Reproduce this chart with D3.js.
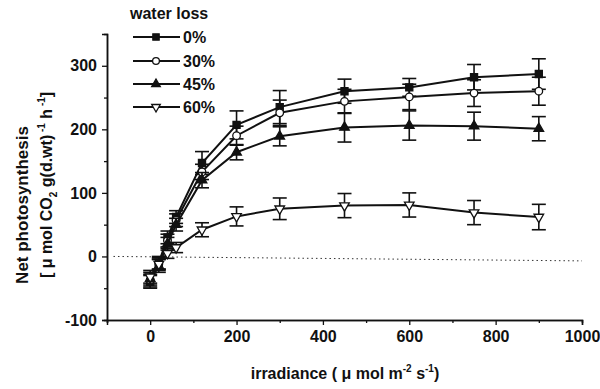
<!DOCTYPE html>
<html>
<head>
<meta charset="utf-8">
<script src="https://cdn.jsdelivr.net/npm/d3@7"></script>
<style>
	body { margin: 0; background: #fff; }
	text { font-family: "Liberation Sans", Arial, sans-serif; fill: #111; }
</style>
</head>
<body>
<div id="chart"></div>
<script>
(function () {
	// data
	var irradiance = [0, 20, 40, 60, 120, 200, 300, 450, 600, 750, 900];
	var seriesNames = ['0%', '30%', '45%', '60%'];
	var loss0 = [-40, -10, 30, 62, 147, 207, 235, 260, 266, 282, 287];
	var loss30 = [-38, -12, 25, 57, 133, 190, 226, 244, 251, 257, 260];
	var loss45 = [-35, -15, 20, 50, 120, 164, 189, 203, 206, 205, 201];
	var loss60 = [-32, -12, 5, 14, 42, 63, 75, 80, 81, 69, 62];
	var err0 = [10, 10, 10, 10, 18, 22, 26, 19, 14, 20, 24];
	var err30 = [10, 10, 10, 10, 12, 15, 20, 19, 20, 21, 22];
	var err45 = [10, 10, 10, 10, 12, 12, 15, 23, 23, 22, 19];
	var err60 = [10, 8, 8, 8, 11, 15, 17, 19, 19, 19, 20];
	var zeroLine = [[-85, 0], [1000, -7]];
	var xTicks = [0, 200, 400, 600, 800, 1000];
	var yTicks = [-100, 0, 100, 200, 300];

	var series = [
		{ name: seriesNames[0], values: loss0, errs: err0, symbol: d3.symbolSquare, fill: '#111', size: 50 },
		{ name: seriesNames[1], values: loss30, errs: err30, symbol: d3.symbolCircle, fill: '#fff', size: 45 },
		{ name: seriesNames[2], values: loss45, errs: err45, symbol: d3.symbolTriangle, fill: '#111', size: 40 },
		{ name: seriesNames[3], values: loss60, errs: err60, symbol: d3.symbolTriangle, fill: '#fff', size: 40, flip: true }
	];

	var width = 600, height = 389;
	var margin = { top: 34, right: 18, bottom: 69, left: 107 };
	var fontSize = '16px';

	var x = d3.scaleLinear().domain([-100, 1000]).range([margin.left, width - margin.right]);
	var y = d3.scaleLinear().domain([-100, 350]).range([height - margin.bottom, margin.top]);

	var svg = d3.select('#chart').append('svg')
		.attr('width', width).attr('height', height);

	// axes (plain hyphen for negatives, like the original)
	var fmt = d => String(d);
	var xAxis = d3.axisBottom(x).tickValues(xTicks).tickSize(5).tickPadding(6).tickFormat(fmt);
	var xMinor = d3.axisBottom(x).tickValues(d3.range(-100, 1000, 200)).tickSize(3).tickFormat('');
	var yAxis = d3.axisLeft(y).tickValues(yTicks).tickSize(5).tickPadding(5).tickFormat(fmt);
	var yMinor = d3.axisLeft(y).tickValues(d3.range(-50, 350, 100)).tickSize(3).tickFormat('');

	var gx = svg.append('g').attr('transform', 'translate(0,' + y(-100) + ')');
	gx.call(xAxis);
	gx.append('g').call(xMinor);
	var gy = svg.append('g').attr('transform', 'translate(' + x(-100) + ',0)');
	gy.call(yAxis);
	gy.append('g').call(yMinor);

	svg.selectAll('.domain').attr('stroke', '#111').attr('stroke-width', 1.5);
	svg.selectAll('.tick line').attr('stroke', '#111').attr('stroke-width', 1.3);
	svg.selectAll('.tick text')
		.style('font-size', fontSize).style('font-weight', 'bold').attr('fill', '#111');

	// dotted zero line
	svg.append('path')
		.attr('d', d3.line().x(d => x(d[0])).y(d => y(d[1]))(zeroLine))
		.attr('fill', 'none').attr('stroke', '#333')
		.attr('stroke-width', 1).attr('stroke-dasharray', '1.5,3');

	// series lines, error bars, markers
	var line = d3.line().x(d => x(d.x)).y(d => y(d.y));
	series.forEach(function (s) {
		var pts = irradiance.map((v, i) => ({ x: v, y: s.values[i], e: s.errs[i] }));
		var g = svg.append('g');

		g.append('path').attr('d', line(pts))
			.attr('fill', 'none').attr('stroke', '#111').attr('stroke-width', 2);

		var eb = g.selectAll('.eb').data(pts).enter().append('g')
			.attr('stroke', '#111').attr('stroke-width', 1.6);
		eb.append('line')
			.attr('x1', d => x(d.x)).attr('x2', d => x(d.x))
			.attr('y1', d => y(d.y - d.e)).attr('y2', d => y(d.y + d.e));
		eb.append('line')
			.attr('x1', d => x(d.x) - 7).attr('x2', d => x(d.x) + 7)
			.attr('y1', d => y(d.y + d.e)).attr('y2', d => y(d.y + d.e));
		eb.append('line')
			.attr('x1', d => x(d.x) - 7).attr('x2', d => x(d.x) + 7)
			.attr('y1', d => y(d.y - d.e)).attr('y2', d => y(d.y - d.e));

		g.selectAll('.pt').data(pts).enter().append('path')
			.attr('d', d3.symbol().type(s.symbol).size(s.size))
			.attr('transform', d => 'translate(' + x(d.x) + ',' + y(d.y) + ')' + (s.flip ? ' rotate(180)' : ''))
			.attr('fill', s.fill).attr('stroke', '#111').attr('stroke-width', 1.3);
	});

	// legend
	svg.append('text').attr('x', 130).attr('y', 19)
		.style('font-size', fontSize).style('font-weight', 'bold').text('water loss');
	var legend = svg.selectAll('.lg').data(series).enter().append('g')
		.attr('transform', (d, i) => 'translate(133,' + [37, 61, 84, 107][i] + ')');
	legend.append('line').attr('x1', 0).attr('x2', 47)
		.attr('stroke', '#111').attr('stroke-width', 2);
	legend.append('path')
		.attr('d', d => d3.symbol().type(d.symbol).size(d.size * 0.8)())
		.attr('transform', d => 'translate(23,0)' + (d.flip ? ' rotate(180)' : ''))
		.attr('fill', d => d.fill).attr('stroke', '#111').attr('stroke-width', 1.3);
	legend.append('text').attr('x', 50).attr('y', 6)
		.style('font-size', fontSize).style('font-weight', 'bold').text(d => d.name);

	// axis titles
	var xt = svg.append('text').attr('x', 345).attr('y', 379).attr('text-anchor', 'middle')
		.style('font-size', fontSize).style('font-weight', 'bold');
	xt.append('tspan').text('irradiance ( \u03bc mol m');
	xt.append('tspan').attr('dy', -7).style('font-size', '10px').text('-2');
	xt.append('tspan').attr('dy', 7).text(' s');
	xt.append('tspan').attr('dy', -7).style('font-size', '10px').text('-1');
	xt.append('tspan').attr('dy', 7).text(')');

	svg.append('text')
		.attr('transform', 'translate(28,205) rotate(-90)').attr('text-anchor', 'middle')
		.style('font-size', '17px').style('font-weight', 'bold').text('Net photosynthesis');

	var yt = svg.append('text')
		.attr('transform', 'translate(52,185) rotate(-90)').attr('text-anchor', 'middle')
		.style('font-size', fontSize).style('font-weight', 'bold');
	yt.append('tspan').text('[ \u03bc mol CO');
	yt.append('tspan').attr('dy', 5).style('font-size', '10px').text('2');
	yt.append('tspan').attr('dy', -5).text(' g(d.wt)');
	yt.append('tspan').attr('dy', -7).style('font-size', '10px').text(' -1');
	yt.append('tspan').attr('dy', 7).text(' h');
	yt.append('tspan').attr('dy', -7).style('font-size', '10px').text(' -1');
	yt.append('tspan').attr('dy', 7).text(']');
})();
</script>
</body>
</html>
